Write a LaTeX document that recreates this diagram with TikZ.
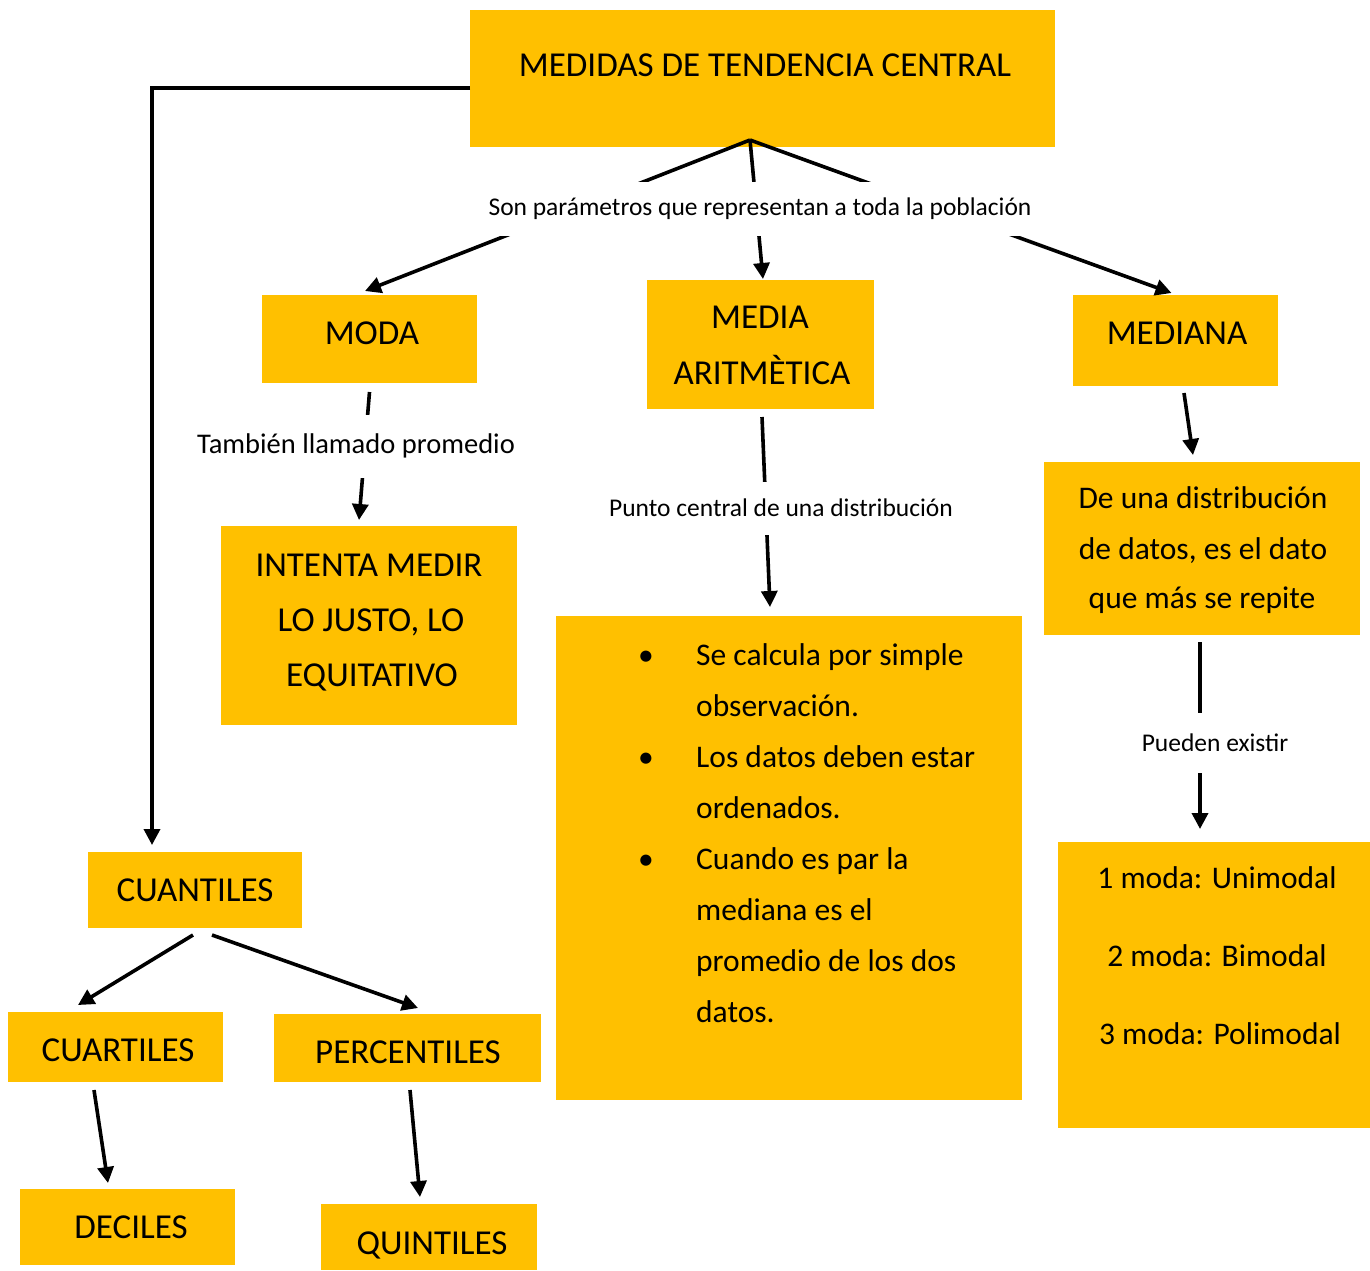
\documentclass[tikz,border=0pt]{standalone}
\usepackage{fontspec}
\setmainfont{Carlito}
\usetikzlibrary{arrows.meta}
\definecolor{gold}{HTML}{FFC000}
\begin{document}
\begin{tikzpicture}[x=1pt,y=-1pt,
  box/.style={fill=gold, inner sep=0pt, outer sep=0pt},
  capt/.style={font=\fontsize{35}{42}\selectfont, anchor=base, inner sep=0pt},
  bodyt/.style={font=\fontsize{31.5}{38}\selectfont, anchor=base, inner sep=0pt},
  lab/.style={font=\fontsize{25.5}{30}\selectfont, fill=white, inner sep=0pt, inner xsep=4pt},
  conn/.style={line width=3.6pt, -{Triangle[length=16pt,width=16pt]}}]
\path[use as bounding box, fill=white] (0,0) rectangle (1370,1270);

% boxes
\node[box, minimum width=585pt, minimum height=137pt] (top) at (762.5,78.5) {};
\node[box, minimum width=215pt, minimum height=88pt] (moda) at (369.5,339) {};
\node[box, minimum width=227pt, minimum height=129pt] (media) at (760.5,344.5) {};
\node[box, minimum width=205pt, minimum height=91pt] (mediana) at (1175.5,340.5) {};
\node[box, minimum width=296pt, minimum height=199pt] (intenta) at (369,625.5) {};
\node[box, minimum width=466pt, minimum height=484pt] (bul) at (789,858) {};
\node[box, minimum width=316pt, minimum height=173pt] (deuna) at (1202,548.5) {};
\node[box, minimum width=312pt, minimum height=286pt] (modas) at (1214,985) {};
\node[box, minimum width=214pt, minimum height=76pt] (cuantiles) at (195,890) {};
\node[box, minimum width=215pt, minimum height=70pt] (cuartiles) at (115.5,1047) {};
\node[box, minimum width=267pt, minimum height=68pt] (percentiles) at (407.5,1048) {};
\node[box, minimum width=215pt, minimum height=76pt] (deciles) at (127.5,1227) {};
\node[box, minimum width=216pt, minimum height=66pt] (quintiles) at (429,1237) {};

% texts in boxes
\node[capt] (topT) at (765,76) {MEDIDAS DE TENDENCIA CENTRAL};
\node[capt] (modaT) at (372,344) {MODA};
\node[capt] (mediaT1) at (760,328) {MEDIA};
\node[capt] (mediaT2) at (762,384) {ARITMÈTICA};
\node[capt] (medianaT) at (1177,344) {MEDIANA};
\node[capt] (int1) at (369,576) {INTENTA MEDIR};
\node[capt] (int2) at (371,631) {LO JUSTO, LO};
\node[capt] (int3) at (372,686) {EQUITATIVO};
\node[capt] (cuanT) at (195,901) {CUANTILES};
\node[capt] (cuarT) at (118,1061) {CUARTILES};
\node[capt] (percT) at (408,1063) {PERCENTILES};
\node[capt] (decT) at (131,1238) {DECILES};
\node[capt] (quinT) at (432,1254) {QUINTILES};

\node[bodyt] (du1) at (1203,508) {De una distribución};
\node[bodyt] (du2) at (1203,559) {de datos, es el dato};
\node[bodyt] (du3) at (1202,608) {que más se repite};

\node[bodyt] (m1) at (1217,888) {1 moda: Unimodal};
\node[bodyt] (m2) at (1217,966) {2 moda: Bimodal};
\node[bodyt] (m3) at (1220,1044) {3 moda: Polimodal};

\foreach \t [count=\i] in {Se calcula por simple, observación., Los datos deben estar, ordenados., Cuando es par la, mediana es el, promedio de los dos, datos.}
  \node[bodyt, anchor=base west] (bl\i) at (696,{665+51.1*(\i-1)}) {\t};
\foreach \i in {0,2,4}
  \node[bodyt] (dot\i) at (646,{665+51.1*\i}) {•};

% connectors
\coordinate (apex) at ([xshift=-12.5pt,yshift=7pt]top.south);
\draw[conn] (apex) -- ([xshift=-4.5pt,yshift=4pt]moda.north);
\draw[conn] (apex) -- ([xshift=2.5pt,yshift=1pt]media.north);
\draw[conn] (apex) -- ([xshift=-4pt,yshift=2pt]mediana.north);
\draw[conn] ([yshift=-9.5pt]top.west) -| ([xshift=-43pt,yshift=7pt]cuantiles.north);
\draw[conn] ([yshift=-9pt]moda.south) -- ([xshift=-10pt,yshift=6pt]intenta.north);
\draw[conn] ([xshift=1.5pt,yshift=-8pt]media.south) -- ([xshift=-19pt,yshift=9pt]bul.north);
\draw[conn] ([xshift=8.5pt,yshift=-7pt]mediana.south) -- ([xshift=-9pt,yshift=7pt]deuna.north);
\draw[conn] ([xshift=-2pt,yshift=-7pt]deuna.south) -- ([xshift=-14pt,yshift=13pt]modas.north);
\draw[conn] ([xshift=-2pt,yshift=-7pt]cuantiles.south) -- ([xshift=-37.5pt,yshift=7pt]cuartiles.north);
\draw[conn] ([xshift=17pt,yshift=-7pt]cuantiles.south) -- ([xshift=10.5pt,yshift=6pt]percentiles.north);
\draw[conn] ([xshift=-21.5pt,yshift=-8pt]cuartiles.south) -- ([xshift=-19.5pt,yshift=6pt]deciles.north);
\draw[conn] ([xshift=2.5pt,yshift=-8pt]percentiles.south) -- ([xshift=-9pt,yshift=7pt]quintiles.north);

% connector labels
\node[lab, minimum height=54pt] (l1) at (760,209) {Son parámetros que representan a toda la población};
\node[lab, minimum height=63pt, font=\fontsize{28.5}{34}\selectfont] (l2) at (356,446) {También llamado promedio};
\node[lab, minimum height=53pt] (l3) at (781,508) {Punto central de una distribución};
\node[lab, minimum height=60pt] (l4) at (1215,743) {Pueden existir};
\end{tikzpicture}
\end{document}
